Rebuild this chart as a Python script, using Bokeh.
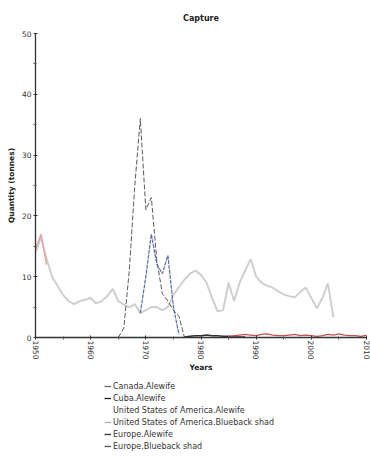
import math
from bokeh.plotting import figure
from bokeh.layouts import column
from bokeh.models import Legend, LegendItem, Range1d, FixedTicker
from bokeh.embed import file_html
from bokeh.resources import INLINE

# ---- data ----
us_alewife_years = list(range(1950, 2005))
us_alewife_vals = [14.0, 16.5, 13.0, 10.0, 8.5, 7.0, 6.0, 5.5, 6.0, 6.2,
                   6.5, 5.6, 6.0, 6.8, 8.0, 6.0, 5.4, 5.0, 5.5, 4.0,
                   4.5, 5.0, 5.0, 4.5, 5.0, 7.0, 8.3, 9.5, 10.5, 11.0,
                   10.3, 9.0, 6.5, 4.3, 4.5, 9.0, 6.0, 9.0, 11.0, 12.9,
                   10.0, 9.0, 8.5, 8.2, 7.6, 7.1, 6.8, 6.6, 7.5, 8.2,
                   6.5, 4.8, 6.5, 8.9, 3.3]

canada_alewife_years = list(range(1965, 1978))
canada_alewife_vals = [0.0, 1.5, 11.0, 25.0, 36.0, 21.0, 23.0, 12.6, 7.2, 6.0, 4.5, 3.5, 0.0]

cuba_alewife_years = list(range(1977, 1989))
cuba_alewife_vals = [0.1, 0.2, 0.3, 0.3, 0.4, 0.3, 0.3, 0.2, 0.2, 0.1, 0.1, 0.1]

us_blueback_years = list(range(1969, 1977))
us_blueback_vals = [4.0, 10.0, 17.0, 12.0, 10.5, 13.5, 5.0, 0.5]

europe_alewife_years = [1950, 1951, 1952]
europe_alewife_vals = [14.5, 17.0, 12.0]

europe_blueback_years = list(range(1985, 2011))
europe_blueback_vals = [0.2, 0.3, 0.4, 0.5, 0.4, 0.3, 0.5, 0.6, 0.4, 0.3,
                        0.3, 0.4, 0.5, 0.3, 0.4, 0.3, 0.2, 0.3, 0.5, 0.4,
                        0.6, 0.4, 0.3, 0.3, 0.2, 0.4]

legend_names = ["Canada.Alewife", "Cuba.Alewife", "United States of America.Alewife",
                "United States of America.Blueback shad", "Europe.Alewife", "Europe.Blueback shad"]
x_ticks = [1950, 1960, 1970, 1980, 1990, 2000, 2010]
y_ticks = [0, 10, 20, 30, 40, 50]

FONT = "DejaVu Sans"

p = figure(width=370, height=380, output_backend="svg", toolbar_location=None,
           x_range=Range1d(1950, 2010), y_range=Range1d(0, 50),
           min_border_left=35, min_border_right=4, min_border_top=32, min_border_bottom=43,
           title="Capture")
p.title.align = "center"
p.title.text_font = FONT
p.title.text_font_size = "8px"
p.title.text_font_style = "bold"
p.title.text_color = "#222222"
p.title.standoff = 22
p.outline_line_color = None
p.grid.visible = False
p.background_fill_color = "white"

for ax in (p.xaxis[0], p.yaxis[0]):
    ax.axis_line_color = "#333333"
    ax.axis_line_width = 1.3
    ax.major_tick_in = 2
    ax.major_tick_out = 2
    ax.minor_tick_in = 1
    ax.minor_tick_out = 2
    ax.major_tick_line_color = "#333333"
    ax.minor_tick_line_color = "#555555"
    ax.major_label_text_font = FONT
    ax.major_label_text_font_size = "7.5px"
    ax.major_label_text_color = "#333333"
    ax.axis_label_text_font = FONT
    ax.axis_label_text_font_size = "7.5px"
    ax.axis_label_text_font_style = "bold"
    ax.axis_label_text_color = "#222222"
    ax.major_label_standoff = 2

p.xaxis.ticker = FixedTicker(ticks=x_ticks, minor_ticks=[y + 5 for y in x_ticks[:-1]])
p.yaxis.ticker = FixedTicker(ticks=y_ticks, minor_ticks=[v + 5 for v in y_ticks[:-1]])
p.xaxis.major_label_orientation = -math.pi / 2
p.xaxis.major_label_standoff = 1
p.xaxis.axis_label = "Years"
p.yaxis.axis_label = "Quantity (tonnes)"
p.xaxis.axis_label_standoff = 0
p.yaxis.axis_label_standoff = 3

p.line(us_alewife_years, us_alewife_vals, line_color="#cfcfcf", line_width=2)
p.line(canada_alewife_years, canada_alewife_vals, line_color="#5a5a5a", line_width=1,
       line_dash="5 2")
p.line(cuba_alewife_years, cuba_alewife_vals, line_color="#333333", line_width=1.5)
p.line(us_blueback_years, us_blueback_vals, line_color="#5b6aa6", line_width=1.2,
       line_dash="4 1")
p.line(europe_alewife_years, europe_alewife_vals, line_color="#e4a4ae", line_width=1.5)
p.line(europe_blueback_years, europe_blueback_vals, line_color="#c85050", line_width=1.3)

# ---- legend figure below the chart ----
lg = figure(width=370, height=72, output_backend="svg", toolbar_location=None,
            x_range=Range1d(0, 1), y_range=Range1d(0, 1),
            min_border_left=0, min_border_right=0, min_border_top=0, min_border_bottom=0)
lg.axis.visible = False
lg.grid.visible = False
lg.outline_line_color = None

sw_colors = ["#666666", "#222222", "#ffffff", "#b0b0b0", "#333333", "#555555"]
items = []
for name, c in zip(legend_names, sw_colors):
    sw = lg.line([-10, -9], [0, 0], line_color=c, line_width=1.3)
    items.append(LegendItem(label=name, renderers=[sw]))

legend = Legend(items=items, location=(69, 0), orientation="vertical",
                label_text_font=FONT, label_text_font_size="8px", label_text_color="#333333",
                glyph_width=7, glyph_height=12, label_height=12, label_standoff=2,
                spacing=0, padding=0, margin=0, border_line_color=None,
                background_fill_alpha=0)
lg.add_layout(legend)

layout = column(p, lg)
open("out.html", "w").write(file_html(layout, INLINE))
